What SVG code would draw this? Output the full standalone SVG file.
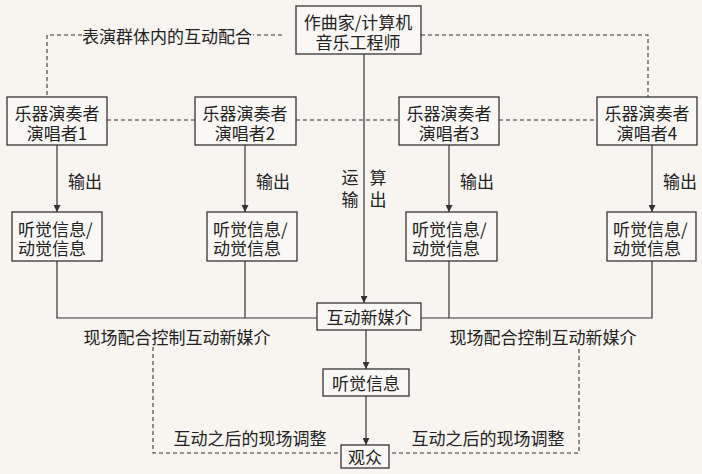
<svg xmlns="http://www.w3.org/2000/svg" width="702" height="474" viewBox="0 0 702 474">
<defs>
<marker id="arr" viewBox="0 0 10 10" refX="10" refY="5" markerWidth="7" markerHeight="7" markerUnits="userSpaceOnUse" orient="auto">
<path d="M0,0 L10,5 L0,10 z" fill="#333"/>
</marker>
<style>
.box{fill:#faf8f4;stroke:#333;stroke-width:1.3}
.t{font-family:"Noto Sans CJK SC","Liberation Sans",sans-serif;font-size:17px;fill:#222;text-anchor:middle;dominant-baseline:central}
.tl{text-anchor:start}
.ln{fill:none;stroke:#333;stroke-width:1.2}
.ds{fill:none;stroke:#333;stroke-width:1.1;stroke-dasharray:4 3}
</style>
</defs>
<rect width="702" height="474" fill="#f8f5f0"/>
<g id="connectors">
<path class="ds" d="M282,35 H253 M82,35 H47 V97"/>
<path class="ds" d="M421,35 H648 V97"/>
<path class="ds" d="M107,120 H195 M296,120 H399 M499,120 H597"/>
<path class="ln" d="M57,145 V212" marker-end="url(#arr)"/>
<path class="ln" d="M245,145 V212" marker-end="url(#arr)"/>
<path class="ln" d="M449,145 V212" marker-end="url(#arr)"/>
<path class="ln" d="M652,145 V212" marker-end="url(#arr)"/>
<path class="ln" d="M57,261 V318 H317 M245,261 V318"/>
<path class="ln" d="M652,261 V318 H421 M449,261 V318"/>
<path class="ln" d="M364,54 V303" marker-end="url(#arr)"/>
<path class="ln" d="M366,330 V369" marker-end="url(#arr)"/>
<path class="ln" d="M366,396 V445" marker-end="url(#arr)"/>
<path class="ds" d="M153,347 V453 H341"/>
<path class="ds" d="M579,349 V453 H389"/>
<text class="t" x="167" y="35">表演群体内的互动配合</text>
<text class="t" x="85" y="180">输出</text>
<text class="t" x="273" y="180">输出</text>
<text class="t" x="477" y="180">输出</text>
<text class="t" x="680" y="180">输出</text>
<text class="t" x="350" y="176">运<tspan x="350" dy="22">输</tspan></text>
<text class="t" x="378" y="176">算<tspan x="378" dy="22">出</tspan></text>
<text class="t" x="177" y="336">现场配合控制互动新媒介</text>
<text class="t" x="543" y="336">现场配合控制互动新媒介</text>
<text class="t" x="250" y="437">互动之后的现场调整</text>
<text class="t" x="488" y="437">互动之后的现场调整</text>
</g>
<g id="composer">
<rect class="box" x="296" y="6" width="125" height="48"/>
<text class="t" x="358" y="21">作曲家/计算机<tspan x="358" dy="20">音乐工程师</tspan></text>
</g>
<g id="performer1">
<rect class="box" x="7" y="97" width="100" height="48"/>
<text class="t" x="57" y="112">乐器演奏者<tspan x="57" dy="20">演唱者1</tspan></text>
</g>
<g id="performer2">
<rect class="box" x="195" y="97" width="101" height="48"/>
<text class="t" x="245" y="112">乐器演奏者<tspan x="245" dy="20">演唱者2</tspan></text>
</g>
<g id="performer3">
<rect class="box" x="399" y="97" width="100" height="48"/>
<text class="t" x="449" y="112">乐器演奏者<tspan x="449" dy="20">演唱者3</tspan></text>
</g>
<g id="performer4">
<rect class="box" x="597" y="97" width="100" height="48"/>
<text class="t" x="647" y="112">乐器演奏者<tspan x="647" dy="20">演唱者4</tspan></text>
</g>
<g id="info1">
<rect class="box" x="12" y="212" width="90" height="49"/>
<text class="t tl" x="18" y="228">听觉信息/<tspan x="18" dy="19">动觉信息</tspan></text>
</g>
<g id="info2">
<rect class="box" x="207" y="212" width="90" height="49"/>
<text class="t tl" x="213" y="228">听觉信息/<tspan x="213" dy="19">动觉信息</tspan></text>
</g>
<g id="info3">
<rect class="box" x="406" y="212" width="91" height="49"/>
<text class="t tl" x="412" y="228">听觉信息/<tspan x="412" dy="19">动觉信息</tspan></text>
</g>
<g id="info4">
<rect class="box" x="607" y="212" width="89" height="49"/>
<text class="t tl" x="613" y="228">听觉信息/<tspan x="613" dy="19">动觉信息</tspan></text>
</g>
<g id="media">
<rect class="box" x="317" y="303" width="104" height="27"/>
<text class="t" x="369" y="316">互动新媒介</text>
</g>
<g id="audio">
<rect class="box" x="323" y="369" width="86" height="27"/>
<text class="t" x="366" y="382">听觉信息</text>
</g>
<g id="audience">
<rect class="box" x="341" y="445" width="48" height="23"/>
<text class="t" x="365" y="456">观众</text>
</g>
</svg>
